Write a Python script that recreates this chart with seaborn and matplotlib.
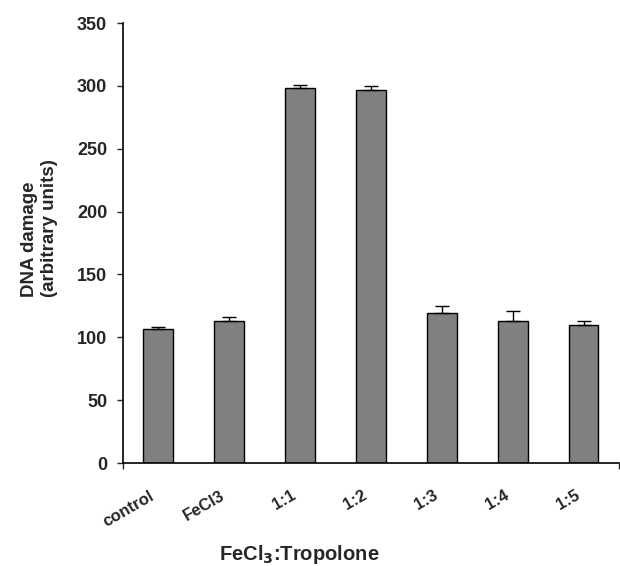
import matplotlib
matplotlib.use("Agg")
import matplotlib.pyplot as plt
import matplotlib.transforms as mtransforms
import numpy as np
import seaborn as sns

# values
categories = ["control", "FeCl3", "1:1", "1:2", "1:3", "1:4", "1:5"]
damage = [106.5, 113, 298.5, 297, 119.5, 113, 110]
damage_err = [1.7, 3.5, 1.8, 3.2, 5.0, 8.3, 3.2]
y_ticks = [0, 50, 100, 150, 200, 250, 300, 350]

sns.set_style("white")
plt.rcParams['font.family'] = ['Liberation Sans', 'DejaVu Sans']
plt.rcParams['font.weight'] = 'bold'

fig = plt.figure(figsize=(6.2, 5.66), dpi=100)
ax = fig.add_axes([122.5 / 620, 1 - 463 / 566, 496.5 / 620, 440 / 566])

# bars
sns.barplot(x=categories, y=damage, color="#808080", edgecolor="black",
            linewidth=1.0, width=0.42, saturation=1, ax=ax)

# upper error bars only
ax.errorbar(np.arange(len(categories)), damage,
            yerr=[np.zeros(len(damage)), damage_err],
            fmt='none', ecolor='black', elinewidth=1.0, capsize=5, capthick=1.0, zorder=3)

ax.set_xlim(-0.5, len(categories) - 0.5)
ax.set_ylim(0, 350)
ax.set_yticks(y_ticks)
ax.tick_params(axis='y', direction='out', length=4.5, width=1, pad=6.5, labelsize=13, left=True)
ax.set_yticklabels([str(v) for v in y_ticks], fontweight='bold')

# category labels, rotated like the original
ax.set_xticks(range(len(categories)))
ax.set_xticklabels(categories, rotation=30, ha='right', va='top',
                   rotation_mode='anchor', fontsize=12, fontweight='bold')
ax.tick_params(axis='x', which='major', length=0, pad=18)
shift = mtransforms.ScaledTranslation(-9 / 100, 0, fig.dpi_scale_trans)
for lab in ax.get_xticklabels():
    lab.set_transform(lab.get_transform() + shift)

# small tick marks only at both ends of the category axis
ax.set_xticks([-0.5, len(categories) - 0.5], minor=True)
ax.tick_params(axis='x', which='minor', direction='out', length=4.5, width=1, bottom=True)

sns.despine(ax=ax)
for side in ['left', 'bottom']:
    ax.spines[side].set_color('black')
    ax.spines[side].set_linewidth(1.2)

ax.set_ylabel("DNA damage\n(arbitrary units)", fontsize=13.5, fontweight='bold',
              linespacing=1.25, multialignment='left')
ax.yaxis.set_label_coords(-0.129, 0.534)

fig.text(299 / 620, 1 - 555 / 566, "FeCl$_3$:Tropolone", ha='center', va='center',
         fontsize=14.5, fontweight='bold')

fig.savefig("out.png", dpi=100)
